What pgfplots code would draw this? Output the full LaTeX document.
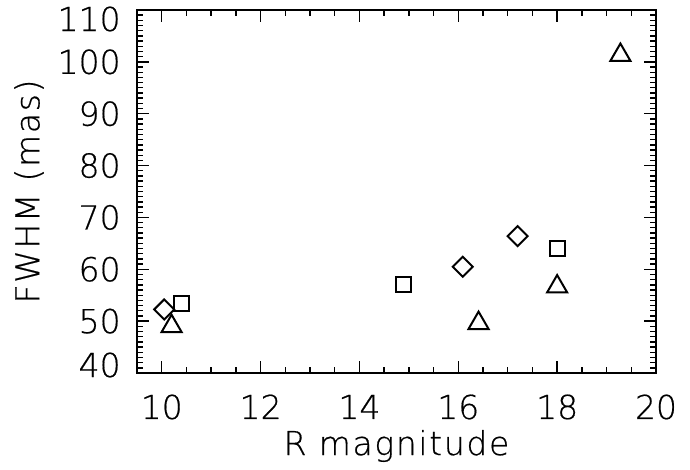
\documentclass[border=0pt]{standalone}
\usepackage{fontspec}
\setmainfont{DejaVu Sans ExtraLight}[UprightFeatures={FakeBold=0.5}]
\newfontfamily\labfont{DejaVu Sans ExtraLight}[UprightFeatures={FakeBold=0.5}, LetterSpace=5]
\usepackage{pgfplots}
\pgfplotsset{compat=1.18}
\newcommand\lf{\fontsize{16.5pt}{19pt}\selectfont}
\begin{document}
\lf
\begin{tikzpicture}
\path[use as bounding box] (-68.5pt,-48.5pt) rectangle (276.5pt,186.5pt);
\begin{axis}[
  at={(0,0)}, anchor=south west,
  scale only axis,
  width=259.5pt, height=181.5pt,
  xmin=9.5, xmax=20, ymin=40, ymax=110,
  xtick={10,12,...,20}, ytick={40,50,...,110},
  yticklabels={\raisebox{4pt}[\height][\depth]{40},50,60,70,80,90,100,\raisebox{-4.5pt}[\height][\depth]{110}},
  minor x tick num=3, minor y tick num=9,
  tick align=inside, tick pos=both,
  xticklabel pos=left, yticklabel pos=left,
  major tick length=6pt, minor tick length=3pt,
  axis line style={line width=0.8pt},
  every tick/.style={black, line width=0.7pt},
  /pgf/number format/assume math mode=true,
  xticklabel style={anchor=base, yshift=-23pt, font=\lf},
  yticklabel style={anchor=east, xshift=-2.5pt, font=\lf},
  every axis x label/.style={at={(axis description cs:0.5,0)}, yshift=-36.5pt, anchor=center, font=\lf\labfont},
  every axis y label/.style={at={(axis description cs:0,0.5)}, xshift=-54pt, rotate=90, anchor=center, font=\lf\labfont},
  xlabel={R magnitude},
  ylabel={FWHM (mas)},
  clip=false,
]
\addplot[only marks, mark=square, mark size=3.54pt, mark options={rotate=45, line width=1pt, fill=none, draw=black}]
  coordinates {(10.05,52.25) (16.09,60.5) (17.2,66.4)};
\addplot[only marks, mark=square, mark size=3.75pt, mark options={line width=1pt, fill=none, draw=black}]
  coordinates {(10.4,53.4) (14.9,57.1) (18.0,64.1)};
\addplot[only marks, mark=triangle, mark size=5.8pt, mark options={line width=1pt, fill=none, draw=black}]
  coordinates {(10.2,49.0) (16.41,49.6) (18.0,56.65) (19.28,101.3)};
\end{axis}
\end{tikzpicture}
\end{document}
